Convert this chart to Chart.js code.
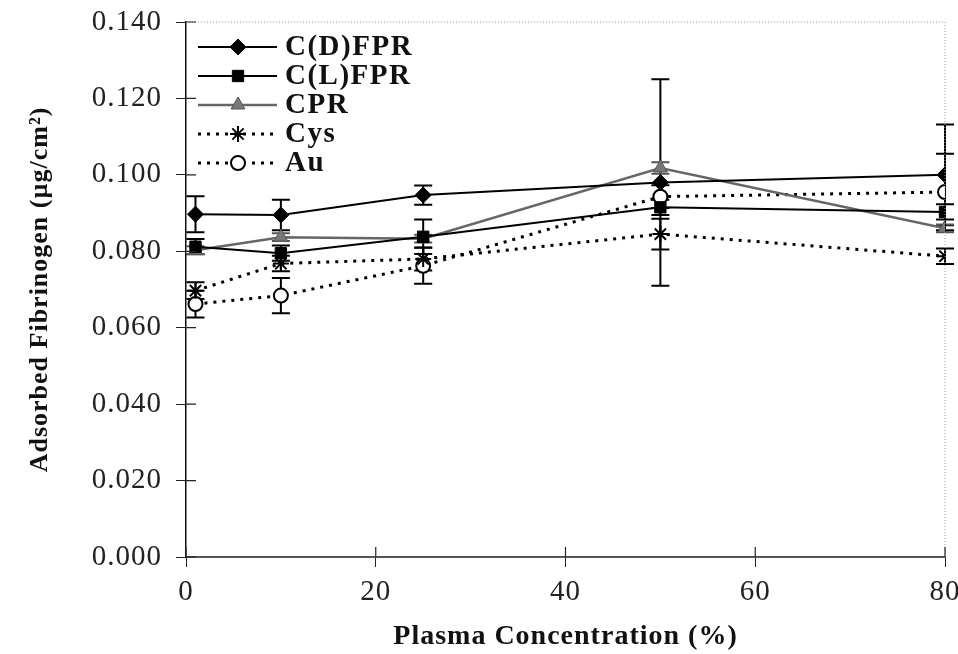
<!DOCTYPE html>
<html>
<head>
<meta charset="utf-8">
<script src="https://cdn.jsdelivr.net/npm/chart.js@4.4.1/dist/chart.umd.min.js"></script>
<style>
  html, body { margin: 0; padding: 0; background: #fff; }
  #wrap { width: 958px; height: 654px; }
</style>
</head>
<body>
<div id="wrap"><canvas id="myChart" width="958" height="654"></canvas></div>
<script>
// plasma concentration (%)
const plasma = [1, 10, 25, 50, 80];

const seriesNames = ['C(D)FPR', 'C(L)FPR', 'CPR', 'Cys', 'Au'];

// adsorbed fibrinogen, ug/cm2
const cdfpr = [0.0897, 0.0895, 0.0947, 0.0980, 0.1000];
const clfpr = [0.0812, 0.0795, 0.0838, 0.0915, 0.0903];
const cpr   = [0.0803, 0.0837, 0.0833, 0.1018, 0.0860];
const cys   = [0.0697, 0.0768, 0.0780, 0.0845, 0.0787];
const au    = [0.0662, 0.0684, 0.0762, 0.0943, 0.0955];

// error bars (+/-)
const cdfprErr = [0.0047, 0.0040, 0.0025, 0.0270, 0.0132];
const clfprErr = [0.0020, 0.0020, 0.0045, 0.0020, 0.0020];
const cprErr   = [0.0010, 0.0010, 0.0010, 0.0015, 0.0010];
const cysErr   = [0.0022, 0.0020, 0.0030, 0.0040, 0.0020];
const auErr    = [0.0035, 0.0046, 0.0047, 0.0030, 0.0100];

const yTicks = [0, 0.02, 0.04, 0.06, 0.08, 0.10, 0.12, 0.14];
const xTicks = [0, 20, 40, 60, 80];

const serif = "'Liberation Serif', 'Times New Roman', serif";

const ctx = document.getElementById('myChart').getContext('2d');

function toPts(vals) {
  return vals.map((v, i) => ({ x: plasma[i], y: v }));
}

const errs = [cdfprErr, clfprErr, cprErr, cysErr, auErr];

// error bars drawn from the scales
const errorBars = {
  id: 'errorBars',
  beforeDatasetsDraw(chart) {
    const c = chart.ctx;
    const xs = chart.scales.x, ys = chart.scales.y;
    c.save();
    chart.data.datasets.forEach((ds, di) => {
      c.strokeStyle = di === 2 ? '#555' : '#000';
      c.lineWidth = 2;
      ds.data.forEach((p, j) => {
        const e = errs[di][j];
        const px = xs.getPixelForValue(p.x);
        const top = ys.getPixelForValue(p.y + e);
        const bot = ys.getPixelForValue(p.y - e);
        c.beginPath();
        c.moveTo(px, top); c.lineTo(px, bot);
        c.moveTo(px - 9, top); c.lineTo(px + 9, top);
        c.moveTo(px - 9, bot); c.lineTo(px + 9, bot);
        c.stroke();
      });
    });
    c.restore();
  }
};

// dotted frame on top / right, inner tick marks
const frame = {
  id: 'frame',
  beforeDraw(chart) {
    chart.ctx.letterSpacing = '1px';
  },
  afterDraw(chart) {
    const c = chart.ctx;
    const a = chart.chartArea;
    const xs = chart.scales.x, ys = chart.scales.y;
    c.save();
    c.strokeStyle = '#999';
    c.lineWidth = 1;
    c.setLineDash([1, 2]);
    c.beginPath();
    c.moveTo(a.left, a.top); c.lineTo(a.right, a.top); c.lineTo(a.right, a.bottom);
    c.stroke();
    c.setLineDash([]);
    c.strokeStyle = '#222';
    c.lineWidth = 1.2;
    c.beginPath();
    yTicks.forEach(v => {
      const py = ys.getPixelForValue(v);
      c.moveTo(a.left, py); c.lineTo(a.left + 10, py);
    });
    xTicks.forEach(v => {
      const px = xs.getPixelForValue(v);
      c.moveTo(px, a.bottom); c.lineTo(px, a.bottom - 10);
    });
    c.stroke();
    c.restore();
  }
};

// legend inside the plot, top left
const insideLegend = {
  id: 'insideLegend',
  afterDraw(chart) {
    const c = chart.ctx;
    const x0 = 198, x1 = 277, mx = 238, tx = 285;
    const rows = [47, 76, 105, 134, 163];
    c.save();
    chart.data.datasets.forEach((ds, i) => {
      const y = rows[i];
      c.strokeStyle = ds.borderColor;
      c.lineWidth = ds.borderWidth;
      c.setLineDash(ds.borderDash || []);
      c.beginPath();
      c.moveTo(x0, y); c.lineTo(x1, y);
      c.stroke();
      c.setLineDash([]);
      if (ds.pointStyle === 'circle') {
        c.fillStyle = '#fff';
        c.fillRect(mx - 8, y - 8, 16, 16);
      }
      c.fillStyle = ds.pointBackgroundColor;
      c.strokeStyle = ds.pointBorderColor;
      c.lineWidth = ds.pointBorderWidth;
      Chart.helpers.drawPoint(c, {
        pointStyle: ds.pointStyle,
        radius: ds.pointRadius,
        rotation: 0,
        borderWidth: ds.pointBorderWidth
      }, mx, y);
      c.fillStyle = '#111';
      c.font = 'bold 29px ' + serif;
      c.letterSpacing = '1.5px';
      c.textBaseline = 'middle';
      c.textAlign = 'left';
      c.fillText(ds.label, tx, y + 1);
    });
    c.restore();
  }
};

const data = {
  datasets: [
    {
      label: seriesNames[0], data: toPts(cdfpr),
      borderColor: '#000', borderWidth: 2,
      pointStyle: 'rectRot', pointRadius: 8,
      pointBackgroundColor: '#000', pointBorderColor: '#000', pointBorderWidth: 1
    },
    {
      label: seriesNames[1], data: toPts(clfpr),
      borderColor: '#000', borderWidth: 2,
      pointStyle: 'rect', pointRadius: 8,
      pointBackgroundColor: '#000', pointBorderColor: '#000', pointBorderWidth: 1
    },
    {
      label: seriesNames[2], data: toPts(cpr),
      borderColor: '#666', borderWidth: 2.5,
      pointStyle: 'triangle', pointRadius: 8,
      pointBackgroundColor: '#777', pointBorderColor: '#555', pointBorderWidth: 1
    },
    {
      label: seriesNames[3], data: toPts(cys),
      borderColor: '#000', borderWidth: 3, borderDash: [3, 6],
      pointStyle: 'star', pointRadius: 8,
      pointBackgroundColor: '#000', pointBorderColor: '#000', pointBorderWidth: 2
    },
    {
      label: seriesNames[4], data: toPts(au),
      borderColor: '#000', borderWidth: 3, borderDash: [3, 6],
      pointStyle: 'circle', pointRadius: 7,
      pointBackgroundColor: '#fff', pointBorderColor: '#000', pointBorderWidth: 2
    }
  ]
};

const config = {
  type: 'line',
  data: data,
  plugins: [errorBars, frame, insideLegend],
  options: {
    responsive: false,
    animation: false,
    layout: { padding: { top: 6, right: 0, left: 25, bottom: 0 } },
    plugins: {
      legend: { display: false },
      tooltip: { enabled: false }
    },
    scales: {
      x: {
        type: 'linear',
        min: 0, max: 80,
        afterFit: s => { s.height = 97; s.paddingRight = 13; },
        afterBuildTicks: s => { s.ticks = xTicks.map(v => ({ value: v })); },
        ticks: {
          color: '#222', padding: 8,
          font: { family: serif, size: 29 }
        },
        grid: { display: true, drawOnChartArea: false, tickLength: 10, color: '#222' },
        border: { color: '#555', width: 2 },
        title: {
          display: true, text: 'Plasma Concentration (%)', color: '#111',
          font: { family: serif, size: 28, weight: 'bold' },
          padding: { top: 4, bottom: 0 }
        }
      },
      y: {
        min: 0, max: 0.14,
        afterFit: s => { s.width = 161; s.paddingTop = 22; },
        afterBuildTicks: s => { s.ticks = yTicks.map(v => ({ value: v })); },
        ticks: {
          color: '#222', padding: 14,
          font: { family: serif, size: 29 },
          callback: v => v.toFixed(3)
        },
        grid: { display: true, drawOnChartArea: false, tickLength: 10, color: '#222' },
        border: { color: '#111', width: 1.5 },
        title: {
          display: true, text: 'Adsorbed Fibrinogen (\u00b5g/cm\u00b2)', color: '#111',
          font: { family: serif, size: 26, weight: 'bold' },
          padding: { top: 0, bottom: 0 }
        }
      }
    }
  }
};

new Chart(ctx, config);
</script>
</body>
</html>
